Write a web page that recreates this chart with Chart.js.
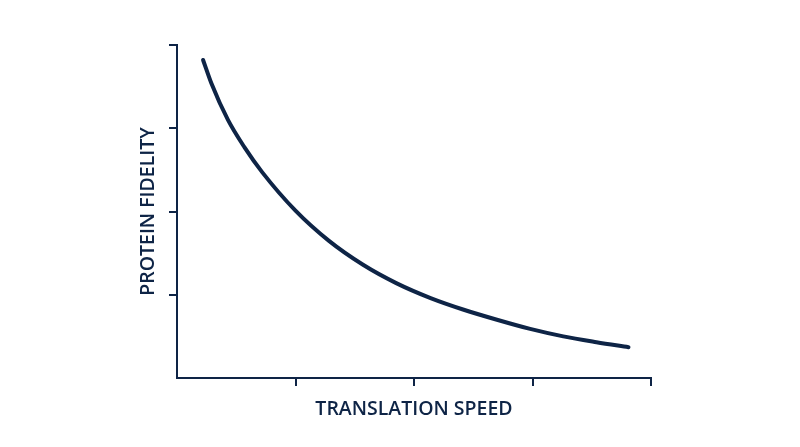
<!DOCTYPE html>
<html>
<head>
<meta charset="utf-8">
<script src="https://cdn.jsdelivr.net/npm/chart.js@4/dist/chart.umd.min.js"></script>
<style>
    html, body { margin: 0; padding: 0; background: #ffffff; }
    #wrap { width: 800px; height: 447px; }
</style>
</head>
<body>
<div id="wrap"><canvas id="fidelityChart"></canvas></div>
<script>
// ################ data ###############
const speedValues = [0.22, 0.29, 0.43, 0.57, 0.72, 1.00, 1.28, 1.57, 1.85, 2.14, 2.42, 2.70, 2.98, 3.26, 3.54, 3.81];
const fidelityValues = [3.82, 3.54, 3.10, 2.77, 2.47, 2.01, 1.65, 1.36, 1.14, 0.96, 0.82, 0.70, 0.59, 0.50, 0.43, 0.37];
const xTicks = [0, 1, 2, 3, 4];
const yTicks = [0, 1, 2, 3, 4];

const navy = "#0e2446";

// ################ chart ###############
document.addEventListener("DOMContentLoaded", function () {
    const ctx = document.getElementById("fidelityChart").getContext("2d");

    const points = speedValues.map((x, i) => ({ x: x, y: fidelityValues[i] }));

    // hide the tick mark sitting on the origin
    const tickColor = function (context) {
        return context.tick && context.tick.value === 0 ? "rgba(0,0,0,0)" : navy;
    };

    new Chart(ctx, {
        type: "scatter",
        data: {
            datasets: [
                {
                    data: points,
                    showLine: true,
                    borderColor: navy,
                    borderWidth: 4,
                    borderCapStyle: "round",
                    pointRadius: 0,
                    cubicInterpolationMode: "monotone",
                    fill: false,
                },
            ],
        },
        options: {
            responsive: true,
            maintainAspectRatio: false,
            animation: false,
            layout: {
                padding: { left: 0, top: 45, right: 149, bottom: 0 },
            },
            plugins: {
                legend: { display: false },
                tooltip: { enabled: false },
            },
            scales: {
                x: {
                    type: "linear",
                    min: 0,
                    max: 4,
                    afterBuildTicks: function (scale) {
                        scale.ticks = xTicks.map((v) => ({ value: v }));
                    },
                    afterFit: function (scale) {
                        scale.height = 447 - 378;
                    },
                    ticks: { display: false },
                    grid: {
                        drawOnChartArea: false,
                        drawTicks: true,
                        tickLength: 8,
                        lineWidth: 2,
                        color: tickColor,
                    },
                    border: { color: navy, width: 2 },
                    title: {
                        display: true,
                        text: "TRANSLATION SPEED",
                        color: navy,
                        font: { family: "'Open Sans'", size: 19.5, weight: 600 },
                        padding: { top: 0, bottom: 26 },
                    },
                },
                y: {
                    type: "linear",
                    min: 0,
                    max: 4,
                    afterBuildTicks: function (scale) {
                        scale.ticks = yTicks.map((v) => ({ value: v }));
                    },
                    afterFit: function (scale) {
                        scale.width = 177;
                    },
                    ticks: { display: false },
                    grid: {
                        drawOnChartArea: false,
                        drawTicks: true,
                        tickLength: 8,
                        lineWidth: 2,
                        color: tickColor,
                    },
                    border: { color: navy, width: 2 },
                    title: {
                        display: true,
                        text: "PROTEIN FIDELITY",
                        color: navy,
                        font: { family: "'Open Sans'", size: 19.5, weight: 600 },
                        padding: { top: 137, bottom: 0 },
                    },
                },
            },
        },
    });
});
</script>
</body>
</html>
